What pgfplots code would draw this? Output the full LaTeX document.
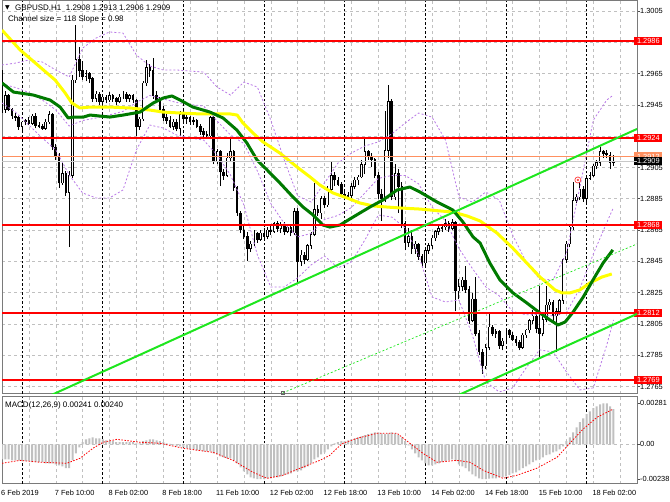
\documentclass[border=0pt]{standalone}
\usepackage{fontspec}
\setmainfont{Liberation Sans}
\newfontfamily\symfont{DejaVu Sans}
\usepackage{pgfplots}
\usepackage{pgfplotstable}
\pgfplotsset{compat=1.18}

\definecolor{mtgrid}{HTML}{C0C0C0}
\definecolor{mtyellow}{HTML}{FFFF00}
\definecolor{mtgreen}{HTML}{007A00}
\definecolor{mtlime}{HTML}{1EE61E}
\definecolor{mtband}{HTML}{B878E6}
\definecolor{mtred}{HTML}{FF0000}
\definecolor{mtorange}{HTML}{FF9060}
\definecolor{mtbid}{HTML}{C8C8C8}
\definecolor{mthist}{HTML}{C0C0C0}
\definecolor{mtframe}{HTML}{7A7A7A}

% price label box on the right scale
\newcommand\lvl[2]{{\setlength\fboxsep{1.5pt}\colorbox{#1}{\hspace{1.3pt}\textcolor{white}{#2}\hspace{1.3pt}}}}

% H1 bars: index, open, high, low, close, MACD main
\pgfplotstableread{
i o h l c m
0 1.2964 1.2967 1.2940 1.2942 -0.00103
1 1.2942 1.2954 1.2940 1.2951 -0.00103
2 1.2951 1.2952 1.2941 1.2942 -0.00103
3 1.2942 1.2943 1.2936 1.2938 -0.00110
4 1.2938 1.2940 1.2935 1.2937 -0.00110
5 1.2937 1.2938 1.2929 1.2931 -0.00110
6 1.2931 1.2935 1.2929 1.2934 -0.00116
7 1.2934 1.2936 1.2932 1.2935 -0.00116
8 1.2935 1.2937 1.2932 1.2933 -0.00116
9 1.2933 1.2939 1.2932 1.2938 -0.00123
10 1.2938 1.2940 1.2930 1.2932 -0.00123
11 1.2932 1.2934 1.2930 1.2931 -0.00123
12 1.2931 1.2933 1.2929 1.2930 -0.00123
13 1.2930 1.2936 1.2929 1.2934 -0.00130
14 1.2934 1.2941 1.2933 1.2939 -0.00130
15 1.2939 1.2940 1.2916 1.2918 -0.00130
16 1.2918 1.2920 1.2910 1.2912 -0.00137
17 1.2912 1.2914 1.2892 1.2895 -0.00144
18 1.2895 1.2908 1.2894 1.2901 -0.00151
19 1.2901 1.2903 1.2887 1.2889 -0.00164
20 1.2889 1.2903 1.2854 1.2900 -0.00164
21 1.2900 1.2964 1.2898 1.2961 -0.00110
22 1.2961 1.2996 1.2959 1.2974 -0.00062
23 1.2974 1.2982 1.2963 1.2967 -0.00021
24 1.2967 1.2973 1.2961 1.2963 0.00014
25 1.2963 1.2967 1.2960 1.2965 0.00034
26 1.2965 1.2966 1.2959 1.2962 0.00041
27 1.2962 1.2963 1.2947 1.2949 0.00048
28 1.2949 1.2954 1.2947 1.2952 0.00041
29 1.2952 1.2953 1.2945 1.2947 0.00041
30 1.2947 1.2952 1.2946 1.2950 0.00034
31 1.2950 1.2951 1.2946 1.2948 0.00027
32 1.2948 1.2953 1.2947 1.2951 0.00021
33 1.2951 1.2952 1.2947 1.2949 0.00021
34 1.2949 1.2950 1.2945 1.2947 0.00014
35 1.2947 1.2952 1.2946 1.2950 0.00014
36 1.2950 1.2954 1.2949 1.2952 0.00014
37 1.2952 1.2953 1.2947 1.2949 0.00014
38 1.2949 1.2952 1.2947 1.2951 0.00014
39 1.2951 1.2952 1.2946 1.2948 0.00014
40 1.2948 1.2949 1.2925 1.2931 0.00007
41 1.2931 1.2937 1.2929 1.2936 0.00007
42 1.2936 1.2960 1.2935 1.2959 0.00021
43 1.2959 1.2974 1.2957 1.2969 0.00027
44 1.2969 1.2971 1.2963 1.2967 0.00034
45 1.2967 1.2975 1.2949 1.2951 0.00034
46 1.2951 1.2954 1.2946 1.2948 0.00027
47 1.2948 1.2950 1.2940 1.2942 0.00021
48 1.2942 1.2944 1.2935 1.2937 0.00014
49 1.2937 1.2941 1.2933 1.2935 0.00007
50 1.2935 1.2938 1.2930 1.2931 0.00003
51 1.2931 1.2936 1.2929 1.2934 -0.00007
52 1.2934 1.2936 1.2928 1.2930 -0.00014
53 1.2930 1.2941 1.2925 1.2939 -0.00014
54 1.2939 1.2942 1.2934 1.2936 -0.00021
55 1.2936 1.2939 1.2933 1.2937 -0.00027
56 1.2937 1.2938 1.2932 1.2934 -0.00034
57 1.2934 1.2937 1.2932 1.2935 -0.00034
58 1.2935 1.2936 1.2930 1.2931 -0.00041
59 1.2931 1.2933 1.2926 1.2928 -0.00041
60 1.2928 1.2930 1.2924 1.2926 -0.00048
61 1.2926 1.2928 1.2924 1.2925 -0.00048
62 1.2925 1.2938 1.2923 1.2937 -0.00048
63 1.2937 1.2938 1.2907 1.2909 -0.00062
64 1.2909 1.2917 1.2907 1.2915 -0.00069
65 1.2915 1.2916 1.2893 1.2902 -0.00082
66 1.2902 1.2904 1.2897 1.2900 -0.00089
67 1.2900 1.2914 1.2899 1.2911 -0.00096
68 1.2911 1.2923 1.2909 1.2915 -0.00096
69 1.2915 1.2916 1.2890 1.2892 -0.00110
70 1.2892 1.2893 1.2874 1.2876 -0.00130
71 1.2876 1.2877 1.2863 1.2865 -0.00158
72 1.2865 1.2868 1.2859 1.2861 -0.00185
73 1.2861 1.2864 1.2845 1.2853 -0.00206
74 1.2853 1.2858 1.2851 1.2856 -0.00226
75 1.2856 1.2865 1.2855 1.2863 -0.00233
76 1.2863 1.2864 1.2857 1.2859 -0.00238
77 1.2859 1.2865 1.2858 1.2863 -0.00238
78 1.2863 1.2866 1.2860 1.2861 -0.00238
79 1.2861 1.2867 1.2859 1.2865 -0.00233
80 1.2865 1.2868 1.2862 1.2864 -0.00233
81 1.2864 1.2870 1.2863 1.2869 -0.00226
82 1.2869 1.2871 1.2864 1.2866 -0.00226
83 1.2866 1.2870 1.2863 1.2868 -0.00219
84 1.2868 1.2870 1.2862 1.2864 -0.00212
85 1.2864 1.2869 1.2863 1.2867 -0.00206
86 1.2867 1.2868 1.2861 1.2863 -0.00199
87 1.2863 1.2879 1.2862 1.2877 -0.00185
88 1.2877 1.2879 1.2831 1.2845 -0.00185
89 1.2845 1.2852 1.2842 1.2849 -0.00178
90 1.2849 1.2851 1.2843 1.2846 -0.00164
91 1.2846 1.2856 1.2845 1.2855 -0.00151
92 1.2855 1.2864 1.2853 1.2862 -0.00130
93 1.2862 1.2895 1.2861 1.2878 -0.00103
94 1.2878 1.2881 1.2874 1.2876 -0.00089
95 1.2876 1.2887 1.2872 1.2885 -0.00069
96 1.2885 1.2887 1.2879 1.2881 -0.00055
97 1.2881 1.2893 1.2880 1.2891 -0.00034
98 1.2891 1.2909 1.2889 1.2900 -0.00014
99 1.2900 1.2902 1.2893 1.2897 0.00007
100 1.2897 1.2899 1.2893 1.2894 0.00014
101 1.2894 1.2896 1.2886 1.2888 0.00021
102 1.2888 1.2890 1.2884 1.2886 0.00021
103 1.2886 1.2889 1.2885 1.2887 0.00027
104 1.2887 1.2895 1.2885 1.2893 0.00034
105 1.2893 1.2899 1.2891 1.2897 0.00041
106 1.2897 1.2900 1.2894 1.2899 0.00048
107 1.2899 1.2910 1.2898 1.2907 0.00055
108 1.2907 1.2924 1.2901 1.2915 0.00062
109 1.2915 1.2916 1.2910 1.2912 0.00069
110 1.2912 1.2914 1.2905 1.2910 0.00075
111 1.2910 1.2911 1.2898 1.2900 0.00082
112 1.2900 1.2902 1.2885 1.2888 0.00082
113 1.2888 1.2891 1.2871 1.2885 0.00075
114 1.2885 1.2941 1.2883 1.2916 0.00069
115 1.2916 1.2958 1.2911 1.2947 0.00075
116 1.2947 1.2949 1.2884 1.2886 0.00082
117 1.2886 1.2907 1.2884 1.2901 0.00075
118 1.2901 1.2904 1.2876 1.2893 0.00062
119 1.2893 1.2896 1.2866 1.2869 0.00048
120 1.2869 1.2871 1.2852 1.2857 0.00021
121 1.2857 1.2866 1.2854 1.2861 -0.00007
122 1.2861 1.2865 1.2850 1.2853 -0.00034
123 1.2853 1.2858 1.2850 1.2856 -0.00062
124 1.2856 1.2857 1.2846 1.2848 -0.00089
125 1.2848 1.2850 1.2841 1.2844 -0.00110
126 1.2844 1.2853 1.2842 1.2852 -0.00130
127 1.2852 1.2857 1.2850 1.2855 -0.00144
128 1.2855 1.2862 1.2853 1.2860 -0.00144
129 1.2860 1.2865 1.2858 1.2864 -0.00137
130 1.2864 1.2868 1.2862 1.2866 -0.00130
131 1.2866 1.2869 1.2864 1.2867 -0.00123
132 1.2867 1.2872 1.2865 1.2869 -0.00116
133 1.2869 1.2871 1.2864 1.2866 -0.00110
134 1.2866 1.2872 1.2865 1.2870 -0.00103
135 1.2870 1.2871 1.2813 1.2826 -0.00116
136 1.2826 1.2834 1.2821 1.2829 -0.00137
137 1.2829 1.2835 1.2826 1.2833 -0.00151
138 1.2833 1.2842 1.2825 1.2827 -0.00164
139 1.2827 1.2829 1.2805 1.2807 -0.00185
140 1.2807 1.2825 1.2806 1.2821 -0.00206
141 1.2821 1.2835 1.2797 1.2799 -0.00219
142 1.2799 1.2801 1.2785 1.2787 -0.00233
143 1.2787 1.2789 1.2773 1.2778 -0.00238
144 1.2778 1.2792 1.2776 1.2790 -0.00238
145 1.2790 1.2812 1.2788 1.2803 -0.00236
146 1.2803 1.2804 1.2797 1.2799 -0.00233
147 1.2799 1.2802 1.2796 1.2800 -0.00233
148 1.2800 1.2801 1.2789 1.2791 -0.00226
149 1.2791 1.2796 1.2788 1.2794 -0.00226
150 1.2794 1.2802 1.2793 1.2801 -0.00219
151 1.2801 1.2802 1.2796 1.2798 -0.00212
152 1.2798 1.2800 1.2794 1.2795 -0.00199
153 1.2795 1.2797 1.2791 1.2793 -0.00192
154 1.2793 1.2795 1.2788 1.2790 -0.00178
155 1.2790 1.2799 1.2789 1.2798 -0.00164
156 1.2798 1.2802 1.2796 1.2801 -0.00151
157 1.2801 1.2808 1.2799 1.2807 -0.00137
158 1.2807 1.2814 1.2805 1.2810 -0.00123
159 1.2810 1.2812 1.2799 1.2802 -0.00110
160 1.2802 1.2829 1.2784 1.2799 -0.00103
161 1.2799 1.2810 1.2797 1.2808 -0.00089
162 1.2808 1.2829 1.2806 1.2817 -0.00075
163 1.2817 1.2821 1.2814 1.2819 -0.00069
164 1.2819 1.2820 1.2807 1.2810 -0.00055
165 1.2810 1.2815 1.2787 1.2813 -0.00048
166 1.2813 1.2821 1.2811 1.2820 -0.00034
167 1.2820 1.2847 1.2818 1.2846 -0.00014
168 1.2846 1.2858 1.2844 1.2856 0.00021
169 1.2856 1.2868 1.2854 1.2867 0.00048
170 1.2867 1.2896 1.2865 1.2884 0.00082
171 1.2884 1.2888 1.2882 1.2886 0.00116
172 1.2886 1.2896 1.2884 1.2891 0.00151
173 1.2891 1.2893 1.2883 1.2885 0.00178
174 1.2885 1.2900 1.2883 1.2898 0.00206
175 1.2898 1.2902 1.2897 1.2900 0.00226
176 1.2900 1.2907 1.2899 1.2906 0.00247
177 1.2906 1.2910 1.2904 1.2908 0.00260
178 1.2908 1.2918 1.2906 1.2915 0.00274
179 1.2915 1.2916 1.2911 1.2914 0.00281
180 1.2914 1.2916 1.2911 1.2913 0.00280
181 1.2913 1.2915 1.2904 1.2908 0.00260
182 1.2908 1.2913 1.2906 1.2909 0.00241
}\bars

% Bollinger bands: upper, lower, middle
\pgfplotstableread{
i up lo mid
0 1.29705 1.29462 1.29584
4 1.29717 1.29404 1.29561
8 1.29737 1.29321 1.29529
12 1.29724 1.29238 1.29481
16 1.29673 1.29162 1.29418
20 1.29628 1.29002 1.29315
24 1.29813 1.28887 1.29350
28 1.29877 1.28855 1.29366
32 1.29916 1.28855 1.29386
36 1.29909 1.28906 1.29408
40 1.29769 1.29162 1.29466
44 1.29698 1.29321 1.29510
48 1.29673 1.29302 1.29488
52 1.29673 1.29257 1.29465
56 1.29666 1.29238 1.29452
60 1.29660 1.29225 1.29443
64 1.29564 1.29130 1.29347
68 1.29513 1.29002 1.29258
72 1.29596 1.28810 1.29203
76 1.29564 1.28491 1.29028
80 1.29353 1.28286 1.28820
84 1.29098 1.28286 1.28692
88 1.28868 1.28344 1.28606
92 1.28829 1.28427 1.28628
96 1.28951 1.28484 1.28718
100 1.29078 1.28408 1.28743
104 1.29142 1.28446 1.28794
108 1.29187 1.28586 1.28887
112 1.29213 1.28746 1.28980
116 1.29264 1.28733 1.28999
120 1.29334 1.28663 1.28999
124 1.29398 1.28491 1.28945
128 1.29372 1.28222 1.28797
132 1.29225 1.28190 1.28708
136 1.28861 1.28203 1.28532
140 1.28829 1.27979 1.28404
144 1.28893 1.27679 1.28286
148 1.28842 1.27615 1.28229
152 1.28618 1.27641 1.28130
156 1.28446 1.27769 1.28108
160 1.28337 1.27884 1.28111
164 1.28331 1.27871 1.28101
168 1.28503 1.27743 1.28123
172 1.28925 1.27628 1.28277
176 1.29353 1.27641 1.28497
180 1.29481 1.27915 1.28698
182 1.29513 1.28075 1.28794
}\bands

% slow moving average (yellow)
\pgfplotstableread{
i v
0 1.29928
5.4 1.29801
11.3 1.29692
15.8 1.29609
18.8 1.29526
20.8 1.29462
23.2 1.29430
26.2 1.29436
32.1 1.29436
38.1 1.29430
44 1.29417
47.9 1.29404
53 1.29398
59 1.29392
67.9 1.29392
70 1.29385
71.7 1.29334
74.7 1.29270
77.7 1.29213
82.7 1.29142
87.8 1.29053
91.7 1.28989
94.6 1.28938
98.5 1.28887
102.7 1.28855
106.5 1.28823
110.5 1.28804
114.6 1.28797
118.5 1.28791
124.4 1.28784
130.4 1.28772
134.2 1.28765
138.4 1.28740
142.3 1.28708
147.3 1.28631
152 1.28535
156.2 1.28439
160.1 1.28350
162.2 1.28312
164.6 1.28267
166.7 1.28248
169 1.28248
172 1.28267
175 1.28312
178.6 1.28350
181.5 1.28369
}\maslow

% fast moving average (dark green)
\pgfplotstableread{
i v
0 1.29590
3.4 1.29532
9.3 1.29513
14.3 1.29481
17.3 1.29436
19.7 1.29366
21.2 1.29372
24.2 1.29372
26.2 1.29385
32.1 1.29372
36.1 1.29385
41.1 1.29404
45 1.29462
48 1.29494
50.6 1.29507
53 1.29481
56.8 1.29436
61.9 1.29404
65.8 1.29366
69.9 1.29289
72.9 1.29206
75.9 1.29098
78.9 1.29034
82.7 1.28951
86.6 1.28861
89.6 1.28797
92.6 1.28746
95.5 1.28682
97.6 1.28669
100.6 1.28682
104.5 1.28733
109.5 1.28797
113.4 1.28842
117.6 1.28906
121.4 1.28925
124.4 1.28893
129.5 1.28829
134.2 1.28778
137.2 1.28701
140.2 1.28606
142.3 1.28567
145.2 1.28439
148.2 1.28331
152.1 1.28248
156.2 1.28184
160.1 1.28120
163.1 1.28075
165.5 1.28043
167.6 1.28062
170 1.28126
173 1.28222
175.9 1.28331
178.9 1.28439
181.8 1.28523
}\mafast

\pgfplotsset{
  mtpane/.style={
    scale only axis, width=635pt, anchor=south west,
    xmin=0, xmax=189,
    axis line style={mtframe, line width=1pt},
    xtick={0,8,...,184},
    xmajorgrids,
    major grid style={mtgrid, dash pattern=on 3pt off 3pt, line width=0.5pt},
    extra x ticks={6,30,54,78,102,126,150,174},
    extra x tick labels={},
    extra x tick style={grid=major, major grid style={black, dash pattern=on 2.5pt off 2pt, line width=0.6pt}},
    ytick pos=right, yticklabel pos=right,
    tick align=outside, major tick length=3pt,
    tick style={black!70, line width=0.5pt},
    xtick style={draw=none},
    scaled y ticks=false,
    tick label style={font=\fontsize{7.4}{9}\selectfont},
    yticklabel style={anchor=west, inner sep=0pt, xshift=0pt},
  },
}

\begin{document}
\begin{tikzpicture}
\useasboundingbox (0,0) rectangle (670pt,502pt);

% ---- price pane ----
\begin{axis}[mtpane, at={(2pt,108pt)}, height=393pt,
  ymin=1.27602, ymax=1.30114,
  ymajorgrids,
  xticklabels={},
  ytick={1.2765,1.2785,1.2805,1.2825,1.2845,1.2865,1.2885,1.2905,1.2925,1.2945,1.2965,1.2985,1.3005},
  yticklabels={1.2765,1.2785,1.2805,1.2825,1.2845,1.2865,1.2885,1.2905,,1.2945,1.2965,,1.3005},
  extra y ticks={1.2769,1.2812,1.2868,1.2924,1.2986,1.2912,1.2909},
  extra y tick labels={\lvl{mtred}{1.2769},\lvl{mtred}{1.2812},\lvl{mtred}{1.2868},\lvl{mtred}{1.2924},\lvl{mtred}{1.2986},\lvl{mtorange}{1.2912},\lvl{black}{1.2909}},
  extra y tick style={grid=none, major tick length=0pt, yticklabel style={xshift=-3pt}},
]
% candle wicks
\addplot[draw=none, mark=none, forget plot,
  error bars/.cd, y dir=plus, y explicit, error mark=none,
  error bar style={draw=black, line width=0.9pt}]
  table[x=i, y=l, y error plus expr={\thisrow{h}-\thisrow{l}}] {\bars};
% candle bodies
\addplot[draw=none, mark=none, forget plot,
  error bars/.cd, y dir=plus, y explicit, error mark=none,
  error bar style={draw=black, line width=2.6pt}]
  table[x=i, y expr={min(\thisrow{o},\thisrow{c})-0.00002},
        y error plus expr={abs(\thisrow{c}-\thisrow{o})+0.00004}] {\bars};
% hollow bull bodies
\addplot[draw=none, mark=none, forget plot,
  restrict expr to domain={\thisrow{c}-\thisrow{o}}{0.00011:1},
  error bars/.cd, y dir=plus, y explicit, error mark=none,
  error bar style={draw=white, line width=1pt}]
  table[x=i, y expr={\thisrow{o}+0.00002},
        y error plus expr={\thisrow{c}-\thisrow{o}-0.00004}] {\bars};

% Bollinger bands
\addplot[mtband, line width=0.8pt, dash pattern=on 2pt off 2pt] table[x=i, y=up] {\bands};
\addplot[mtband, line width=0.8pt, dash pattern=on 2pt off 2pt] table[x=i, y=lo] {\bands};
\addplot[mtband, line width=0.8pt, dash pattern=on 2pt off 2pt] table[x=i, y=mid] {\bands};

% moving averages
\addplot[mtyellow, line width=3pt, line join=round] table[x=i, y=v] {\maslow};
\addplot[mtgreen, line width=3pt, line join=round] table[x=i, y=v] {\mafast};

% horizontal levels
\addplot[mtbid, line width=1pt] coordinates {(0,1.2909) (189,1.2909)};
\addplot[mtorange, line width=1pt] coordinates {(0,1.2912) (189,1.2912)};
\addplot[mtred, line width=1.8pt] coordinates {(0,1.2986) (189,1.2986)};
\addplot[mtred, line width=1.8pt] coordinates {(0,1.2924) (189,1.2924)};
\addplot[mtred, line width=1.8pt] coordinates {(0,1.2868) (189,1.2868)};
\addplot[mtred, line width=1.8pt] coordinates {(0,1.2812) (189,1.2812)};
\addplot[mtred, line width=1.8pt] coordinates {(0,1.2769) (189,1.2769)};

% equidistant channel
\addplot[mtlime, line width=2pt] coordinates {(0,1.27452) (189,1.29296)};
\addplot[mtlime, line width=2pt] coordinates {(120,1.27440) (189,1.28114)};
\addplot[mtlime, line width=0.7pt, dash pattern=on 2pt off 2pt,
  mark=square, mark indices={1}, mark size=1.5pt,
  mark options={solid, draw=black!60, fill=white, line width=0.5pt}]
  coordinates {(83.6,1.27609) (189,1.28561)};

% signal marker
\addplot[only marks, mark=o, mark size=3pt, red!75, line width=0.7pt] coordinates {(171.4,1.2897)};
\addplot[only marks, mark=*, mark size=0.9pt, red!75] coordinates {(171.4,1.2897)};
\end{axis}

% ---- MACD pane ----
\begin{axis}[mtpane, at={(2pt,18pt)}, height=87pt,
  ymin=-0.00272, ymax=0.00324,
  ytick={-0.00238,0.00281}, yticklabels={-0.00238,0.00281},
  extra y ticks={0}, extra y tick labels={0.00},
  extra y tick style={grid=major},
  xticklabels={6 Feb 2019,,7 Feb 10:00,,8 Feb 02:00,,8 Feb 18:00,,11 Feb 10:00,,12 Feb 02:00,,12 Feb 18:00,,13 Feb 10:00,,14 Feb 02:00,,14 Feb 18:00,,15 Feb 10:00,,18 Feb 02:00,},
  xticklabel style={anchor=north west, inner sep=0pt, xshift=-1pt, yshift=-3pt},
]
\addplot[ybar, bar width=0.6, bar shift=0pt, fill=mthist, draw=none] table[x=i, y=m] {\bars};
\addplot[mtred, line width=0.8pt, dash pattern=on 1.5pt off 1.5pt] coordinates {
(0,-0.00130) (5.4,-0.00110) (11.3,-0.00123) (19.3,-0.00130) (23.2,-0.00096)
(27.1,-0.00027) (30.1,0.00014) (34.2,0.00034) (41.1,0.00014) (47,0.00007)
(53.9,-0.00027) (62.8,-0.00055) (68.8,-0.00110) (74.7,-0.00192) (78.9,-0.00233)
(83.6,-0.00212) (88.7,-0.00164) (94.6,-0.00110) (97.6,-0.00075) (99.7,-0.00027)
(101.5,0.00007) (105.7,0.00041) (111.6,0.00075) (117.6,0.00075) (121.4,0.00007)
(125.3,-0.00062) (129.5,-0.00123) (135.4,-0.00110) (139.3,-0.00123) (143.2,-0.00178)
(149.1,-0.00233) (153.3,-0.00212) (159.2,-0.00164) (165.2,-0.00089) (169,0.00007)
(172.9,0.00103) (177.1,0.00185) (181.8,0.00240)};
\end{axis}

% chart captions
\node[anchor=west, inner sep=0pt, font=\symfont\fontsize{6}{7}\selectfont] at (5pt,494pt) {▼};
\node[anchor=west, inner sep=0pt, font=\fontsize{8}{9}\selectfont] at (15pt,494pt) {GBPUSD,H1\ \ 1.2908 1.2913 1.2906 1.2909};
\node[anchor=west, inner sep=0pt, font=\fontsize{8}{9}\selectfont] at (8pt,482.5pt) {Channel size = 118 Slope = 0.98};
\node[anchor=west, inner sep=0pt, font=\fontsize{8}{9}\selectfont] at (5pt,96.5pt) {MACD(12,26,9) 0.00241 0.00240};
\end{tikzpicture}
\end{document}
